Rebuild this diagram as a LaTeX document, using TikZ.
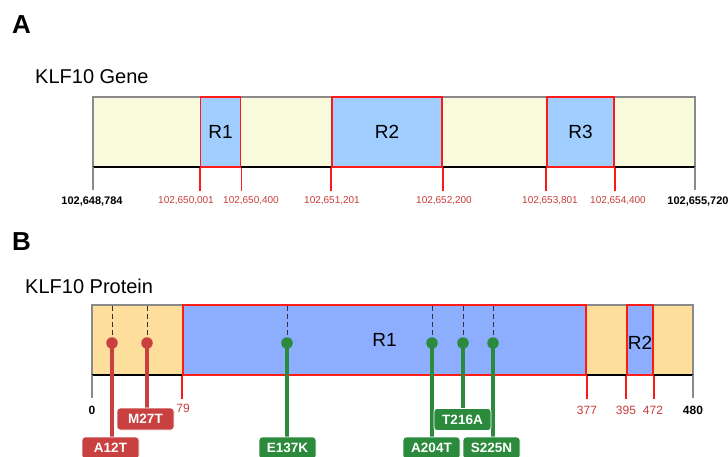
\documentclass[tikz,border=0pt]{standalone}
\usepackage{fontspec}
\setmainfont{Liberation Sans}
\definecolor{geneY}{HTML}{FAFADC}
\definecolor{geneB}{HTML}{9FCEFF}
\definecolor{protY}{HTML}{FDDF9B}
\definecolor{protB}{HTML}{8DADFF}
\definecolor{regred}{HTML}{FF1A1A}
\definecolor{numred}{HTML}{C83C3C}
\definecolor{mutred}{HTML}{C8403F}
\definecolor{mutgreen}{HTML}{2B8A3B}
\definecolor{edgegray}{HTML}{8A8A8A}
\begin{document}
\begin{tikzpicture}[x=1pt,y=-1pt,
  region/.style={draw=regred, line width=1.8pt, inner sep=0pt, minimum height=70pt, font=\fontsize{19}{22}\selectfont},
  redtick/.style={draw=regred, line width=1.8pt},
  graytick/.style={draw=edgegray, line width=1.1pt},
  numlab/.style={text=numred, font=\fontsize{10}{12}\selectfont, inner sep=0pt},
  endlab/.style={text=black, font=\bfseries\fontsize{11}{13}\selectfont, inner sep=0pt},
  title/.style={font=\fontsize{20}{24}\selectfont, anchor=west, inner sep=0pt},
  panel/.style={font=\bfseries\fontsize{26}{30}\selectfont, inner sep=0pt},
  mutdot/.style={circle, fill=#1, inner sep=0pt, minimum size=11.5pt},
  mutline/.style={draw=#1, line width=3.4pt},
  dashline/.style={draw=black!80, line width=1pt, dash pattern=on 5pt off 3pt},
  mutlab/.style={fill=#1, draw=white, line width=0.8pt, rounded corners=3pt, text=white,
     font=\bfseries\fontsize{13.5}{15}\selectfont, minimum width=57pt, minimum height=22pt, inner sep=0pt}
]
\useasboundingbox[fill=white] (0,0) rectangle (728,457);

% ---------- Panel A ----------
\node[panel] (pA) at (21.5,24.5) {A};
\node[title] (tA) at (35,77) {KLF10 Gene};

\fill[geneY] (93,97) rectangle (695,167);
\draw[edgegray, line width=1.1pt] (93,167) -- (93,97) -- (695,97) -- (695,167);
\draw[black, line width=1.1pt] (93,167) -- (695,167);
\coordinate (gL) at (93,167);
\coordinate (gR) at (695,167);
\draw[graytick] (gL) -- ++(0,23);
\draw[graytick] (gR) -- ++(0,23);

\node[region, fill=geneB, minimum width=40pt] (gR1) at (220.5,132) {R1};
\node[region, fill=geneB, minimum width=110pt] (gR2) at (387,132) {R2};
\node[region, fill=geneB, minimum width=67pt] (gR3) at (580.5,132) {R3};
\foreach \r in {gR1,gR2,gR3}{
  \draw[redtick] (\r.south west) -- ++(0,23);
  \draw[redtick] (\r.south east) -- ++(0,23);
}

\node[endlab] (gl0) at (92,202) {102,648,784};
\node[endlab] (gl1) at (698,202) {102,655,720};
\node[numlab] (n1) at (186,201) {102,650,001};
\node[numlab] (n2) at (251,201) {102,650,400};
\node[numlab] (n3) at (332,201) {102,651,201};
\node[numlab] (n4) at (444,201) {102,652,200};
\node[numlab] (n5) at (550,201) {102,653,801};
\node[numlab] (n6) at (618,201) {102,654,400};

% ---------- Panel B ----------
\node[panel] (pB) at (21.5,242) {B};
\node[title] (tB) at (25,286) {KLF10 Protein};

\fill[protY] (92,305) rectangle (693,375);
\draw[edgegray, line width=1.1pt] (92,375) -- (92,305) -- (693,305) -- (693,375);
\draw[black, line width=1.1pt] (92,375) -- (693,375);
\coordinate (pL) at (92,375);
\coordinate (pR) at (693,375);
\draw[graytick] (pL) -- ++(0,23);
\draw[graytick] (pR) -- ++(0,23);

\node[region, fill=protB, minimum width=403pt] (pR1) at (384.5,340) {R1};
\node[region, fill=protB, minimum width=26pt] (pR2) at (640,340) {};
\node[font=\fontsize{19}{22}\selectfont, inner sep=0pt] (pR2t) at (640,343) {R2};
\foreach \r in {pR1,pR2}{
  \draw[redtick] (\r.south west) -- ++(0,23);
  \draw[redtick] (\r.south east) -- ++(0,23);
}

\node[endlab, font=\bfseries\fontsize{12}{14}\selectfont] (p0) at (92,410) {0};
\node[numlab, font=\fontsize{12}{14}\selectfont] (p79) at (183,408) {79};
\node[numlab, font=\fontsize{12}{14}\selectfont] (p377) at (587,410) {377};
\node[numlab, font=\fontsize{12}{14}\selectfont] (p395) at (626,410) {395};
\node[numlab, font=\fontsize{12}{14}\selectfont] (p472) at (653,410) {472};
\node[endlab, font=\bfseries\fontsize{12}{14}\selectfont] (p480) at (693,410) {480};

% mutations: top coordinates, dots, labels
\foreach \n/\x in {m1/112, m2/147, m3/287, m4/432, m5/463, m6/493}{
  \coordinate (\n top) at (\x,306);
}
\coordinate (d1) at (112,343);
\coordinate (d2) at (147,343);
\coordinate (d3) at (287,343);
\coordinate (d4) at (432,343);
\coordinate (d5) at (463,343);
\coordinate (d6) at (493,343);

\draw[dashline] (m1top) -- (d1);
\draw[dashline] (m2top) -- (d2);
\draw[dashline] (m3top) -- (d3);
\draw[dashline] (m4top) -- (d4);
\draw[dashline] (m5top) -- (d5);
\draw[dashline] (m6top) -- (d6);

\coordinate (l1) at (110.5,448);
\coordinate (l2) at (145.5,419);
\coordinate (l3) at (287.5,448);
\coordinate (l4) at (431.5,448);
\coordinate (l5) at (462.5,419.5);
\coordinate (l6) at (491.5,448);

\draw[mutline=mutred] (d1) -- (d1 |- l1);
\draw[mutline=mutred] (d2) -- (d2 |- l2);
\draw[mutline=mutgreen] (d3) -- (d3 |- l3);
\draw[mutline=mutgreen] (d4) -- (d4 |- l4);
\draw[mutline=mutgreen] (d5) -- (d5 |- l5);
\draw[mutline=mutgreen] (d6) -- (d6 |- l6);

\node[mutdot=mutred] (D1) at (d1) {};
\node[mutdot=mutred] (D2) at (d2) {};
\node[mutdot=mutgreen] (D3) at (d3) {};
\node[mutdot=mutgreen] (D4) at (d4) {};
\node[mutdot=mutgreen] (D5) at (d5) {};
\node[mutdot=mutgreen] (D6) at (d6) {};

\node[mutlab=mutred] (L1) at (l1) {A12T};
\node[mutlab=mutred] (L2) at (l2) {M27T};
\node[mutlab=mutgreen] (L3) at (l3) {E137K};
\node[mutlab=mutgreen] (L4) at (l4) {A204T};
\node[mutlab=mutgreen] (L5) at (l5) {T216A};
\node[mutlab=mutgreen] (L6) at (l6) {S225N};
\end{tikzpicture}
\end{document}
